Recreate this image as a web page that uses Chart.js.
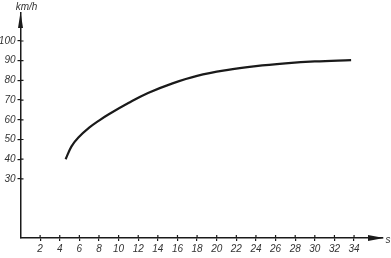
<!DOCTYPE html>
<html>
<head>
<meta charset="utf-8">
<script src="https://cdn.jsdelivr.net/npm/chart.js@4/dist/chart.umd.min.js"></script>
<style>
  body { margin: 0; background: #fff; }
  canvas { display: block; }
</style>
</head>
<body>
<canvas id="c" width="391" height="258"></canvas>
<script>
// time in s vs speed in km/h
const times = [4.6, 5.2, 5.9, 7, 8, 9, 11, 13, 15.5, 18, 21, 24, 27, 30, 33.7];
const speeds = [40, 46.5, 51, 56, 59.6, 62.8, 68.5, 73.6, 78.5, 82.3, 85.2, 87.2, 88.6, 89.6, 90.3];
const xTicks = [2, 4, 6, 8, 10, 12, 14, 16, 18, 20, 22, 24, 26, 28, 30, 32, 34];
const yTicks = [30, 40, 50, 60, 70, 80, 90, 100];

const ink = '#1a1a1a';
const labelFont = { family: 'Liberation Sans', size: 10, style: 'italic' };

// arrows, inner tick halves and the unit labels
const axisArrows = {
  id: 'axisArrows',
  afterDraw(chart) {
    const { ctx, chartArea: a, scales } = chart;
    ctx.save();
    ctx.strokeStyle = ink;
    ctx.fillStyle = ink;
    ctx.lineWidth = 1.2;
    ctx.beginPath();
    yTicks.forEach(v => {
      const y = scales.y.getPixelForValue(v);
      ctx.moveTo(a.left, y);
      ctx.lineTo(a.left + 3, y);
    });
    xTicks.forEach(v => {
      const x = scales.x.getPixelForValue(v);
      ctx.moveTo(x, a.bottom);
      ctx.lineTo(x, a.bottom - 3);
    });
    ctx.stroke();

    ctx.beginPath();
    ctx.moveTo(a.left - 2.5, a.top + 15);
    ctx.lineTo(a.left, a.top - 1);
    ctx.lineTo(a.left + 2.5, a.top + 15);
    ctx.closePath();
    ctx.fill();

    ctx.beginPath();
    ctx.moveTo(a.right - 15, a.bottom - 3);
    ctx.lineTo(a.right + 1, a.bottom);
    ctx.lineTo(a.right - 15, a.bottom + 3);
    ctx.closePath();
    ctx.fill();

    ctx.font = 'italic 10px "Liberation Sans"';
    ctx.fillStyle = '#333';
    ctx.textAlign = 'center';
    ctx.textBaseline = 'middle';
    ctx.fillText('km/h', a.left + 6, 7);
    ctx.fillText('s', a.right + 5, a.bottom + 2);
    ctx.restore();
  }
};

new Chart(document.getElementById('c'), {
  type: 'line',
  data: {
    datasets: [{
      data: times.map((t, i) => ({ x: t, y: speeds[i] })),
      borderColor: ink,
      borderWidth: 2.2,
      pointRadius: 0,
      tension: 0.4,
      fill: false
    }]
  },
  options: {
    responsive: false,
    animation: false,
    layout: { padding: { top: 13, right: 8, left: 0, bottom: 0 } },
    plugins: { legend: { display: false }, tooltip: { enabled: false } },
    scales: {
      x: {
        type: 'linear',
        min: 0,
        max: 36.95,
        afterFit: s => { s.height = 20; },
        afterBuildTicks: s => { s.ticks = xTicks.map(v => ({ value: v })); },
        border: { color: ink, width: 1.5 },
        grid: { drawOnChartArea: false, tickLength: 3, color: ink, lineWidth: 1.2 },
        ticks: { autoSkip: false, maxRotation: 0, padding: 2, color: '#333', font: labelFont }
      },
      y: {
        type: 'linear',
        min: 0,
        max: 114.2,
        afterFit: s => { s.width = 20.5; },
        afterBuildTicks: s => { s.ticks = yTicks.map(v => ({ value: v })); },
        border: { color: ink, width: 1.5 },
        grid: { drawOnChartArea: false, tickLength: 3, color: ink, lineWidth: 1.2 },
        ticks: { padding: 2, color: '#333', font: labelFont }
      }
    }
  },
  plugins: [axisArrows]
});
</script>
</body>
</html>
